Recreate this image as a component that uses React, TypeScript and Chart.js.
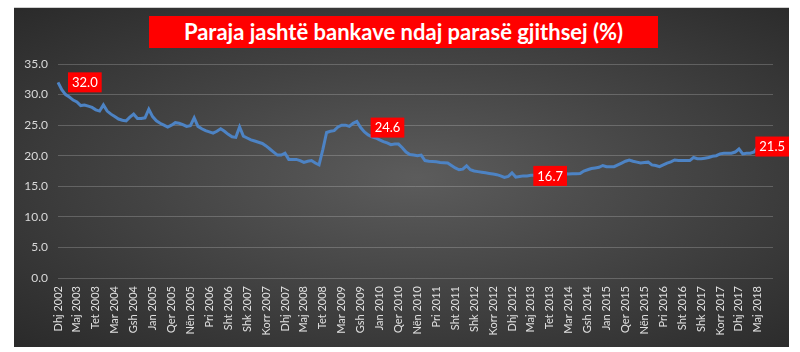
import React, { useEffect, useRef } from "react";
import { Chart, registerables } from "chart.js";

Chart.register(...registerables);

const TITLE = "Paraja jashtë bankave ndaj parasë gjithsej (%)";

// Albanian month abbreviations used on the category axis
const MONTHS = ["Jan", "Shk", "Mar", "Pri", "Maj", "Qer", "Korr", "Gsh", "Sht", "Tet", "Nën", "Dhj"];

// Monthly values (%), from Dec 2002 to May 2018
const v2002 = [32.0];
const v2003 = [30.8, 30.0, 29.6, 29.1, 28.8, 28.2, 28.3, 28.1, 27.9, 27.5, 27.3, 28.3];
const v2004 = [27.3, 26.8, 26.4, 26.0, 25.8, 25.7, 26.3, 26.8, 26.1, 26.1, 26.2, 27.6];
const v2005 = [26.4, 25.7, 25.3, 25.0, 24.7, 25.0, 25.4, 25.3, 25.1, 24.8, 24.9, 26.2];
const v2006 = [24.8, 24.4, 24.1, 23.9, 23.7, 24.0, 24.4, 24.0, 23.5, 23.1, 23.0, 24.7];
const v2007 = [23.2, 22.9, 22.6, 22.4, 22.2, 22.0, 21.6, 21.1, 20.6, 20.1, 20.1, 20.4];
const v2008 = [19.4, 19.4, 19.4, 19.2, 18.9, 19.1, 19.2, 18.8, 18.5, 21.0, 23.8, 24.0];
const v2009 = [24.1, 24.7, 25.0, 25.0, 24.8, 25.3, 25.6, 24.6, 23.9, 23.4, 23.1, 22.9];
const v2010 = [22.6, 22.3, 22.1, 21.8, 21.9, 21.9, 21.3, 20.6, 20.2, 20.1, 20.0, 20.1];
const v2011 = [19.2, 19.1, 19.05, 19.0, 18.9, 18.85, 18.8, 18.4, 18.0, 17.7, 17.8, 18.35];
const v2012 = [17.7, 17.5, 17.4, 17.3, 17.2, 17.1, 17.0, 16.9, 16.7, 16.45, 16.6, 17.2];
const v2013 = [16.5, 16.6, 16.7, 16.7, 16.8, 16.8, 16.9, 16.9, 17.0, 17.0, 17.0, 17.0];
const v2014 = [17.0, 17.05, 17.0, 17.05, 17.05, 17.1, 17.5, 17.7, 17.9, 18.0, 18.1, 18.4];
const v2015 = [18.2, 18.2, 18.2, 18.5, 18.8, 19.1, 19.3, 19.1, 18.95, 18.8, 18.9, 18.95];
const v2016 = [18.5, 18.4, 18.2, 18.5, 18.8, 19.0, 19.3, 19.2, 19.2, 19.2, 19.2, 19.7];
const v2017 = [19.5, 19.5, 19.6, 19.7, 19.9, 20.0, 20.3, 20.4, 20.4, 20.4, 20.6, 21.1];
const v2018 = [20.3, 20.4, 20.4, 20.6, 21.5];

const VALUES = [
  ...v2002, ...v2003, ...v2004, ...v2005, ...v2006, ...v2007, ...v2008, ...v2009,
  ...v2010, ...v2011, ...v2012, ...v2013, ...v2014, ...v2015, ...v2016, ...v2017, ...v2018,
];

// Category axis runs Dec 2002 .. Sep 2018 (the last months are empty)
const START_YEAR = 2002;
const START_MONTH = 11; // December
const CATEGORY_COUNT = 190;
const LABEL_STEP = 5;
const CATEGORIES: string[] = [];
for (let k = 0; k < CATEGORY_COUNT; k++) {
  const m = START_MONTH + k;
  CATEGORIES.push(`${MONTHS[m % 12]} ${START_YEAR + Math.floor(m / 12)}`);
}

// Indices of points that carry a red value label
const LABELLED_POINTS = [0, 80, 123, 185];

const Y_MIN = 0;
const Y_MAX = 35;
const Y_STEP = 5;

const FONT = "Lato, 'Open Sans', sans-serif";

export default function App() {
  const ref = useRef<HTMLCanvasElement>(null);

  useEffect(() => {
    const canvas = ref.current;
    if (!canvas) return;

    const labelPlugin = {
      id: "redValueLabels",
      afterDatasetsDraw(chart: any) {
        const c = chart.ctx;
        const meta = chart.getDatasetMeta(0);
        const limitRight = chart.chartArea.right + 16;
        c.save();
        c.font = `13px ${FONT}`;
        c.textBaseline = "middle";
        c.textAlign = "left";
        LABELLED_POINTS.forEach((idx) => {
          const el = meta.data[idx];
          if (!el) return;
          const text = VALUES[idx].toFixed(1);
          const tw = c.measureText(text).width;
          const w = tw + 8;
          const h = 20;
          let left = el.x + 10;
          if (left + w > limitRight) left = limitRight - w;
          const top = el.y - h / 2;
          c.fillStyle = "#ff0000";
          c.fillRect(left, top, w, h);
          c.fillStyle = "#ffffff";
          c.fillText(text, left + 4, el.y + 0.5);
        });
        c.restore();
      },
    };

    const chart = new Chart(canvas, {
      type: "line",
      data: {
        labels: CATEGORIES,
        datasets: [
          {
            data: VALUES,
            borderColor: "#4d83c4",
            borderWidth: 3,
            pointRadius: 0,
            tension: 0,
            fill: false,
          },
        ],
      },
      options: {
        responsive: false,
        animation: false,
        layout: { padding: { left: 14, right: 27, top: 64, bottom: 8 } },
        plugins: {
          legend: { display: false },
          tooltip: { enabled: false },
          title: { display: false },
        },
        scales: {
          x: {
            type: "category",
            grid: { display: false, drawTicks: false },
            border: { display: false },
            ticks: {
              autoSkip: false,
              maxRotation: 90,
              minRotation: 90,
              padding: 8,
              color: "#e0e0e0",
              font: { family: FONT, size: 11 },
              callback: (_v: any, i: number) => (i % LABEL_STEP === 0 ? CATEGORIES[i] : null),
            },
            afterFit: (s: any) => {
              s.height = 66;
            },
          },
          y: {
            min: Y_MIN,
            max: Y_MAX,
            grid: { color: "rgba(255,255,255,0.2)", lineWidth: 1, drawTicks: false },
            border: { display: false },
            ticks: {
              stepSize: Y_STEP,
              padding: 10,
              color: "#d9d9d9",
              font: { family: FONT, size: 12 },
              callback: (v: any) => Number(v).toFixed(1),
            },
            afterFit: (s: any) => {
              s.width = 44;
            },
          },
        },
      },
      plugins: [labelPlugin],
    });

    return () => chart.destroy();
  }, []);

  return (
    <div style={{ position: "fixed", left: 0, top: 0, width: 800, height: 352, background: "#ffffff", overflow: "hidden" }}>
      <div
        style={{
          position: "absolute",
          left: 14,
          top: 7,
          width: 775,
          height: 340,
          background: "radial-gradient(ellipse at 52% 50%, #5c5c5c 0%, #454545 45%, #2a2a2a 100%)",
          borderTop: "1px solid #cfcfcf",
          boxSizing: "border-box",
        }}
      />
      <div
        style={{
          position: "absolute",
          left: 149,
          top: 16,
          width: 509,
          height: 32,
          background: "#ff0000",
          color: "#ffffff",
          fontFamily: FONT,
          fontWeight: 700,
          fontSize: 22,
          lineHeight: "32px",
          textAlign: "center",
          whiteSpace: "nowrap",
        }}
      >
        {TITLE}
      </div>
      <canvas ref={ref} width={800} height={352} style={{ position: "absolute", left: 0, top: 0, width: 800, height: 352 }} />
    </div>
  );
}
